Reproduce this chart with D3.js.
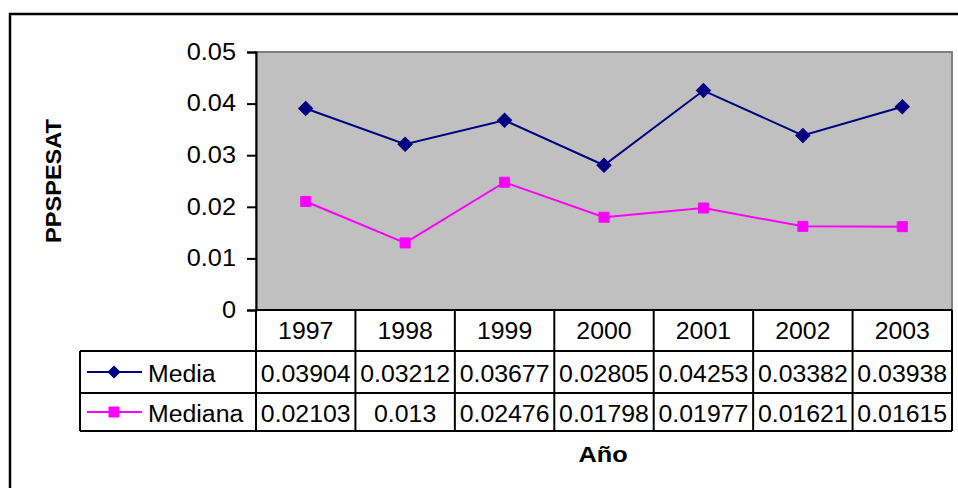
<!DOCTYPE html>
<html>
<head>
<meta charset="utf-8">
<script src="https://cdn.jsdelivr.net/npm/d3@7/dist/d3.min.js"></script>
<style>
  body { margin: 0; background: #fff; }
  svg { display: block; font-family: "Liberation Sans", Arial, sans-serif; }
</style>
</head>
<body>
<svg width="958" height="488"></svg>
<script>
const years = ['1997', '1998', '1999', '2000', '2001', '2002', '2003'];
const media = [0.03904, 0.03212, 0.03677, 0.02805, 0.04253, 0.03382, 0.03938];
const mediana = [0.02103, 0.013, 0.02476, 0.01798, 0.01977, 0.01621, 0.01615];
const mediaLabels = ['0.03904', '0.03212', '0.03677', '0.02805', '0.04253', '0.03382', '0.03938'];
const medianaLabels = ['0.02103', '0.013', '0.02476', '0.01798', '0.01977', '0.01621', '0.01615'];
const yTicks = [0, 0.01, 0.02, 0.03, 0.04, 0.05];
const yTickLabels = ['0', '0.01', '0.02', '0.03', '0.04', '0.05'];

const series = [
  {name: 'Media', values: media, labels: mediaLabels, color: '#000080',
   marker: d3.symbolSquare, rotate: 45, size: 100, legendSize: 70},
  {name: 'Mediana', values: mediana, labels: medianaLabels, color: '#FF00FF',
   marker: d3.symbolSquare, rotate: 0, size: 100, legendSize: 100},
];

const svg = d3.select('svg');
const plotLeft = 256, plotRight = 952, plotTop = 52, plotBottom = 310;
const legendLeft = 80;
const rowY = [310, 351, 393, 431];
const fontSize = 23;
const stretch = 1.08;

const x = d3.scaleBand().domain(years).range([plotLeft, plotRight]);
const y = d3.scaleLinear().domain([0, 0.05]).range([plotBottom, plotTop]);

// text in the reference is a bit wider than the font draws it
function widen(sel, k) {
  sel.each(function() {
    const len = this.getComputedTextLength();
    d3.select(this)
        .attr('textLength', len * k)
        .attr('lengthAdjust', 'spacingAndGlyphs');
  });
}

// outer chart border
svg.append('rect')
    .attr('x', 10).attr('y', 14)
    .attr('width', 1000).attr('height', 600)
    .attr('fill', 'none').attr('stroke', '#000').attr('stroke-width', 2.5);

// plot area
svg.append('rect')
    .attr('x', plotLeft).attr('y', plotTop)
    .attr('width', plotRight - plotLeft).attr('height', plotBottom - plotTop)
    .attr('fill', '#C0C0C0').attr('stroke', '#808080').attr('stroke-width', 2);

// y axis
const yAxis = svg.append('g')
    .attr('transform', `translate(${plotLeft},0)`)
    .call(d3.axisLeft(y)
        .tickValues(yTicks)
        .tickFormat((d, i) => yTickLabels[i])
        .tickSize(9)
        .tickPadding(11));
yAxis.select('.domain').attr('stroke', '#000').attr('stroke-width', 2);
yAxis.selectAll('.tick line').attr('stroke', '#000').attr('stroke-width', 2);
yAxis.selectAll('.tick text')
    .attr('fill', '#000')
    .style('font-size', fontSize + 'px')
    .style('font-family', '"Liberation Sans", Arial, sans-serif')
    .call(widen, 1.1);

// lines and markers
const line = d3.line()
    .x((d, i) => x(years[i]) + x.bandwidth() / 2)
    .y(d => y(d));

series.forEach(s => {
  svg.append('path')
      .datum(s.values)
      .attr('d', line)
      .attr('fill', 'none')
      .attr('stroke', s.color)
      .attr('stroke-width', 2);
  svg.append('g')
      .selectAll('path')
      .data(s.values)
      .enter()
      .append('path')
      .attr('transform', (d, i) =>
          `translate(${x(years[i]) + x.bandwidth() / 2},${y(d)}) rotate(${s.rotate})`)
      .attr('d', d3.symbol().type(s.marker).size(s.size))
      .attr('fill', s.color)
      .attr('stroke', s.color)
      .attr('stroke-width', 1);
});

// data table
const table = svg.append('g');
const hline = (x1, x2, yy) => table.append('line')
    .attr('x1', x1).attr('x2', x2).attr('y1', yy).attr('y2', yy)
    .attr('stroke', '#000').attr('stroke-width', 2);
const vline = (xx, y1, y2) => table.append('line')
    .attr('x1', xx).attr('x2', xx).attr('y1', y1).attr('y2', y2)
    .attr('stroke', '#000').attr('stroke-width', 2);

hline(plotLeft, plotRight, rowY[0]);
hline(legendLeft, plotRight, rowY[1]);
hline(legendLeft, plotRight, rowY[2]);
hline(legendLeft, plotRight, rowY[3]);
vline(legendLeft, rowY[1], rowY[3]);
years.forEach(yr => vline(x(yr), rowY[0], rowY[3]));
vline(plotRight, rowY[0], rowY[3]);

table.selectAll('text.year')
    .data(years)
    .enter()
    .append('text')
    .attr('class', 'year')
    .attr('x', d => x(d) + x.bandwidth() / 2)
    .attr('y', 339)
    .attr('text-anchor', 'middle')
    .style('font-size', fontSize + 'px')
    .text(d => d)
    .call(widen, stretch);

const rowBase = [382, 422];
series.forEach((s, r) => {
  const base = rowBase[r];
  table.selectAll(`text.v${r}`)
      .data(s.labels)
      .enter()
      .append('text')
      .attr('class', `v${r}`)
      .attr('x', (d, i) => x(years[i]) + x.bandwidth() / 2)
      .attr('y', base)
      .attr('text-anchor', 'middle')
      .style('font-size', fontSize + 'px')
      .text(d => d)
      .call(widen, stretch);

  const midY = (rowY[r + 1] + rowY[r + 2]) / 2;
  table.append('line')
      .attr('x1', 87).attr('x2', 142).attr('y1', midY).attr('y2', midY)
      .attr('stroke', s.color).attr('stroke-width', 2);
  table.append('path')
      .attr('transform', `translate(114,${midY}) rotate(${s.rotate})`)
      .attr('d', d3.symbol().type(s.marker).size(s.legendSize))
      .attr('fill', s.color)
      .attr('stroke', s.color);
  table.append('text')
      .attr('x', 148)
      .attr('y', base)
      .style('font-size', fontSize + 'px')
      .text(s.name)
      .call(widen, stretch);
});

// axis titles
svg.append('text')
    .attr('x', 603).attr('y', 462)
    .attr('text-anchor', 'middle')
    .style('font-size', '22px')
    .style('font-weight', 'bold')
    .text('Año')
    .call(widen, 1.15);

svg.append('text')
    .attr('transform', 'translate(61,181) rotate(-90)')
    .attr('text-anchor', 'middle')
    .style('font-size', '22px')
    .style('font-weight', 'bold')
    .text('PPSPESAT')
    .call(widen, 1.07);
</script>
</body>
</html>
